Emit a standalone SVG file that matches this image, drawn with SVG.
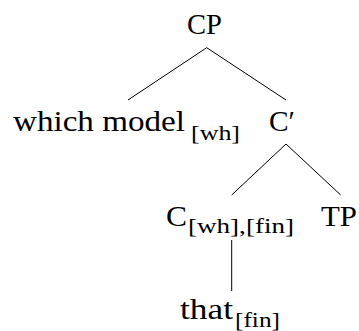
<svg xmlns="http://www.w3.org/2000/svg" width="359" height="331" viewBox="0 0 359 331">
<style>
text{font-family:"Liberation Serif","Times New Roman",serif;fill:#000}
.n{font-size:30px}
.s{font-size:22px}
.e{stroke:#000;stroke-width:1;fill:none}
</style>
<rect width="359" height="331" fill="#fff"/>
<g id="connectors">
<line class="e" x1="206.7" y1="47.7" x2="128" y2="100"/>
<line class="e" x1="206.7" y1="47.7" x2="286" y2="100"/>
<line class="e" x1="286" y1="144" x2="231.7" y2="195"/>
<line class="e" x1="286" y1="144" x2="340.7" y2="195"/>
<line class="e" x1="231.7" y1="240" x2="231.7" y2="291"/>
</g>
<g id="CP"><text class="n" x="187" y="34" textLength="35" lengthAdjust="spacingAndGlyphs">CP</text></g>
<g id="which-model"><text class="n" x="13" y="130.5" textLength="172" lengthAdjust="spacingAndGlyphs">which model</text><text class="s" x="191" y="139.5" textLength="49" lengthAdjust="spacingAndGlyphs">[wh]</text></g>
<g id="C-bar"><text class="n" x="269" y="130.5" textLength="26" lengthAdjust="spacingAndGlyphs">C′</text></g>
<g id="C"><text class="n" x="166" y="225.5" textLength="21" lengthAdjust="spacingAndGlyphs">C</text><text class="s" x="188" y="233" textLength="106" lengthAdjust="spacingAndGlyphs">[wh],[fin]</text></g>
<g id="TP"><text class="n" x="321" y="225.5" textLength="36" lengthAdjust="spacingAndGlyphs">TP</text></g>
<g id="that"><text class="n" x="180" y="318.5" textLength="53" lengthAdjust="spacingAndGlyphs">that</text><text class="s" x="235" y="326.7" textLength="45" lengthAdjust="spacingAndGlyphs">[fin]</text></g>
</svg>
